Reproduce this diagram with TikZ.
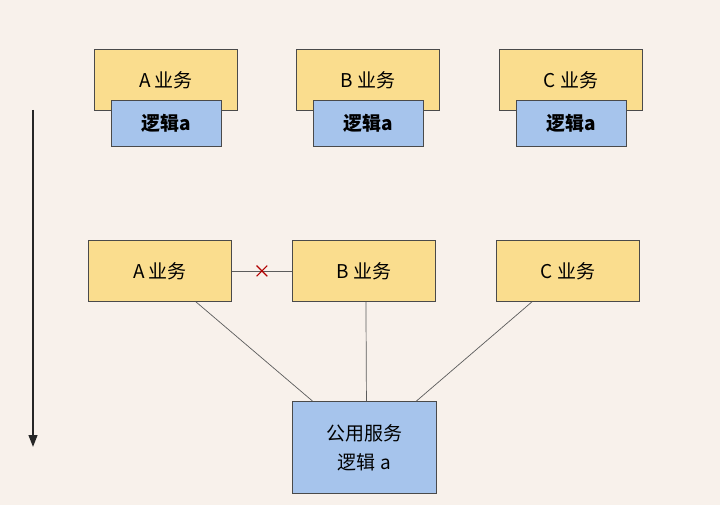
\documentclass[tikz,border=0pt]{standalone}
\usepackage{fontspec}
\newfontfamily\cjk{Noto Sans CJK SC}
\usetikzlibrary{arrows.meta, positioning, shapes.misc}
\definecolor{bgc}{HTML}{F8F1EB}
\definecolor{bizc}{HTML}{FADD8E}
\definecolor{logc}{HTML}{A6C4EC}
\definecolor{edgec}{HTML}{4A4A4A}
\tikzset{
  biz/.style  ={rectangle, draw=edgec, fill=bizc, line width=0.6pt,
                minimum width=3.575cm, minimum height=1.525cm,
                font=\cjk\fontsize{13.5}{16}\selectfont, inner sep=0pt},
  logic/.style={rectangle, draw=edgec, fill=logc, line width=0.6pt,
                minimum width=2.75cm, minimum height=1.15cm,
                font=\cjk\bfseries\fontsize{13.5}{16}\selectfont, inner sep=0pt},
  svc/.style  ={logic, minimum width=3.6cm, minimum height=2.3cm,
                font=\cjk\fontsize{13.5}{20.5}\selectfont, align=center},
  link/.style ={draw=edgec!90, line width=0.5pt},
  xmark/.style={cross out, draw=red!70!black, line width=0.8pt,
                minimum size=2.4mm, inner sep=0pt},
}
\begin{document}
\begin{tikzpicture}[x=0.025cm, y=-0.025cm]
\fill[bgc] (0,0) rectangle (720,505);
\useasboundingbox (0,0) rectangle (720,505);

% ---- before: logic copied into every business ----
\node[biz, anchor=north west] (bizA) at (94,49)  {A 业务};
\node[biz, anchor=north west] (bizB) at (296,49) {B 业务};
\node[biz, anchor=north west] (bizC) at (499,49) {C 业务};
\foreach \s in {A,B,C}
  \node[logic, anchor=north west, xshift=0.425cm, yshift=-1.275cm] (log\s) at (biz\s.north west) {逻辑a};

% ---- timeline ----
\coordinate (tTop) at (33,110);
\coordinate (tBot) at (33,447);
\draw[-{Triangle[length=3mm, width=2.2mm]}, line width=1.2pt, black!85] (tTop) -- (tBot);

% ---- after: shared service ----
\node[biz, anchor=north west] (nA) at (88,240)  {A 业务};
\node[biz, anchor=north west] (nB) at (292,240) {B 业务};
\node[biz, anchor=north west] (nC) at (496,240) {C 业务};
\node[svc, anchor=north west] (pub) at (292,401) {公用服务\\逻辑 a};

\draw[link] (nA) -- node[xmark] (cut) {} (nB);
\draw[link] ([xshift=0.9cm]nA.south) -- ([xshift=-1.3cm]pub.north);
\draw[link] ([xshift=0.05cm]nB.south) -- ([xshift=0.05cm]pub.north);
\draw[link] ([xshift=-0.9cm]nC.south) -- ([xshift=1.3cm]pub.north);
\end{tikzpicture}
\end{document}
